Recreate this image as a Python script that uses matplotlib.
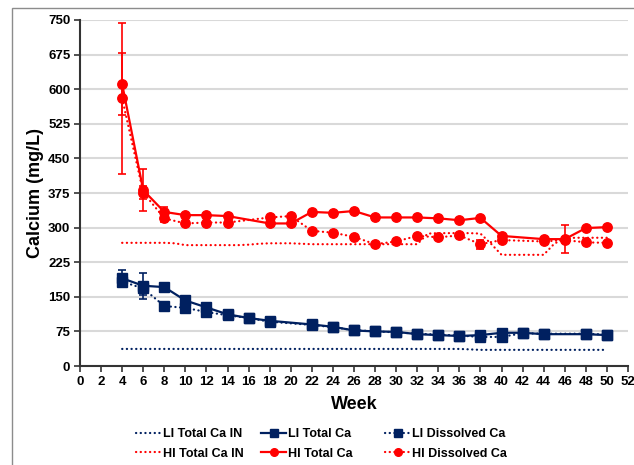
import matplotlib
matplotlib.use("Agg")
import matplotlib.pyplot as plt
from matplotlib.lines import Line2D
from matplotlib.patches import Rectangle

plt.rcParams['font.family'] = ['Liberation Sans', 'DejaVu Sans']
plt.rcParams['font.weight'] = 'bold'

RED = '#ff0000'
NAVY = '#002060'

# Influent concentrations (weekly)
weeks_in = [4, 5, 6, 7, 8, 9, 10, 11, 12, 13, 14, 15, 16, 17, 18, 19, 20, 21, 22,
            23, 24, 25, 26, 27, 28, 29, 30, 31, 32, 33, 34, 35, 36, 37, 38, 39,
            40, 41, 42, 43, 44, 45, 46, 47, 48, 49, 50]
hi_total_in = [267, 267, 267, 267, 267, 266, 262, 262, 262, 262, 262, 262, 263, 265, 266, 266, 266, 265, 264,
               264, 264, 264, 264, 264, 264, 264, 264, 264, 264, 287, 288, 288, 288, 288, 287, 265,
               241, 241, 241, 241, 241, 265, 277, 278, 278, 278, 278]
li_total_in = [37, 37, 37, 37, 37, 37, 37, 37, 37, 37, 37, 37, 37, 37, 37, 37, 37, 37, 37,
               37, 37, 37, 37, 37, 37, 37, 37, 37, 37, 37, 37, 37, 37, 36, 35, 35,
               35, 35, 35, 35, 35, 35, 35, 35, 35, 35, 35]

# High-influent reactor
weeks_hi = [4, 6, 8, 10, 12, 14, 18, 20, 22, 24, 26, 28, 30, 32, 34, 36, 38, 40, 44, 46, 48, 50]
hi_total = [611, 381, 334, 327, 327, 325, 309, 309, 334, 332, 336, 322, 322, 322, 320, 316, 321, 282, 275, 275, 299, 301]
hi_total_err = [67, 45, 10, 0, 0, 0, 0, 0, 0, 0, 0, 0, 0, 0, 0, 0, 0, 0, 0, 31, 0, 0]
hi_diss = [580, 376, 320, 309, 311, 311, 322, 325, 293, 289, 280, 264, 270, 282, 279, 283, 264, 273, 270, 273, 268, 267]
hi_diss_err = [164, 14, 8, 0, 0, 0, 0, 0, 0, 0, 0, 0, 0, 0, 0, 0, 10, 0, 0, 0, 0, 0]

# Low-influent reactor
weeks_li = [4, 6, 8, 10, 12, 14, 16, 18, 22, 24, 26, 28, 30, 32, 34, 36, 38, 40, 42, 44, 48, 50]
li_total = [190, 174, 171, 142, 127, 112, 104, 98, 90, 85, 77, 75, 74, 69, 67, 65, 67, 72, 72, 69, 69, 67]
li_total_err = [18, 28, 8, 10, 5, 0, 0, 0, 0, 0, 0, 0, 0, 0, 0, 0, 0, 0, 0, 0, 0, 0]
li_diss = [183, 168, 130, 126, 117, 110, 104, 96, 89, 84, 78, 75, 73, 70, 68, 66, 63, 63, 71, 70, 70, 68]
li_diss_err = [12, 15, 6, 6, 4, 0, 0, 0, 0, 0, 0, 0, 0, 0, 0, 0, 0, 0, 0, 0, 0, 0]

x_ticks = list(range(0, 53, 2))
y_ticks = [0, 75, 150, 225, 300, 375, 450, 525, 600, 675, 750]

fig = plt.figure(figsize=(6.34, 4.65), dpi=100)
ax = fig.add_axes([80 / 634, 1 - 366 / 465, 548 / 634, 346 / 465])

# chart frame
fig.patches.append(Rectangle((12 / 634, -0.1), 1.2, 1.1 - 8 / 465, transform=fig.transFigure,
                             fill=False, edgecolor='#8c8c8c', lw=1.0))

DOT = (0, (0.1, 2.0))
lw = 1.6

ax.plot(weeks_in, li_total_in, color=NAVY, lw=lw, linestyle=DOT, dash_capstyle='round', zorder=3)
ax.plot(weeks_in, hi_total_in, color=RED, lw=lw, linestyle=DOT, dash_capstyle='round', zorder=3)

def series(x, y, err, color, marker, ls, ms):
    ax.errorbar(x, y, yerr=err, fmt='none', ecolor=color, elinewidth=1.2, capsize=3, capthick=1.2, zorder=4)
    kw = dict(dash_capstyle='round') if ls != '-' else {}
    ax.plot(x, y, color=color, lw=lw, linestyle=ls, marker=marker, ms=ms,
            markeredgecolor=color, markerfacecolor=color, zorder=5, **kw)

series(weeks_li, li_diss, li_diss_err, NAVY, 's', DOT, 6.5)
series(weeks_li, li_total, li_total_err, NAVY, 's', '-', 6.5)
series(weeks_hi, hi_diss, hi_diss_err, RED, 'o', DOT, 6.8)
series(weeks_hi, hi_total, hi_total_err, RED, 'o', '-', 6.8)

ax.set_xlim(0, 52)
ax.set_ylim(0, 750)
ax.set_xticks(x_ticks)
ax.set_yticks(y_ticks)
ax.tick_params(axis='both', labelsize=9.5, direction='out', length=4, width=1.2, color='#333333', pad=3)
for lab in ax.get_xticklabels() + ax.get_yticklabels():
    lab.set_fontweight('bold')
ax.yaxis.grid(True, color='#d9d9d9', lw=1.5)
ax.set_axisbelow(True)
for s in ['top', 'right']:
    ax.spines[s].set_visible(False)
for s in ['left', 'bottom']:
    ax.spines[s].set_linewidth(1.5)
    ax.spines[s].set_color('#333333')

ax.set_xlabel('Week', fontsize=13, fontweight='bold', labelpad=6)
ax.set_ylabel('Calcium (mg/L)', fontsize=13, fontweight='bold', labelpad=3)

def handle(color, ls, marker):
    kw = dict(dash_capstyle='round') if ls != '-' else {}
    return Line2D([], [], color=color, lw=lw, linestyle=ls, marker=marker, ms=5.5,
                  markerfacecolor=color, markeredgecolor=color, **kw)

cols = [
    ([handle(NAVY, DOT, None), handle(RED, DOT, None)], ['LI Total Ca IN', 'HI Total Ca IN'], 136),
    ([handle(NAVY, '-', 's'), handle(RED, '-', 'o')], ['LI Total Ca', 'HI Total Ca'], 261),
    ([handle(NAVY, DOT, 's'), handle(RED, DOT, 'o')], ['LI Dissolved Ca', 'HI Dissolved Ca'], 385),
]
for hs, ls_, xpx in cols:
    leg = fig.legend(hs, ls_, loc='upper left', bbox_to_anchor=(xpx / 634, 1 - 428 / 465),
                     frameon=False, fontsize=9, handlelength=2.0, handletextpad=0.15,
                     labelspacing=0.6, borderpad=0, borderaxespad=0)
    for t in leg.get_texts():
        t.set_fontweight('bold')

fig.savefig('out.png', dpi=100)
